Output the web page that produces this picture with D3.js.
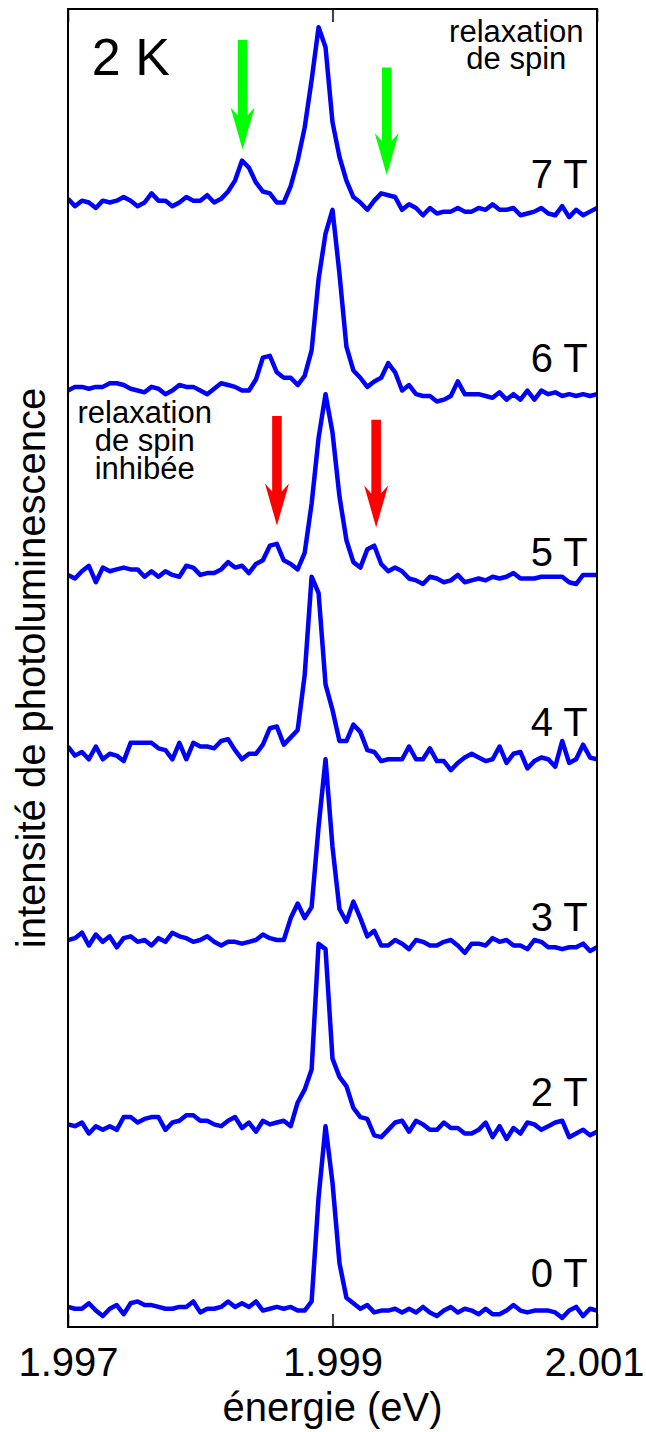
<!DOCTYPE html>
<html lang="fr">
  <head>
    <meta charset="utf-8" />
    <title>Photoluminescence 2 K</title>
    <script src="https://d3js.org/d3.v7.min.js"></script>
    <style>
      body { margin: 0; background: #fff; }
      svg text { font-family: "Liberation Sans", Arial, Helvetica, sans-serif; fill: #000; }
    </style>
  </head>
  <body>
    <div id="chart"></div>
    <script>
      // Energy grid (eV): 77 points, same for every spectrum
      const energyStart = 1.997;
      const energyStep = 0.004 / 76;
      const xTicks = [1.997, 1.999, 2.001];

      // Stacked spectra (arb. units, offset already included)
      const spec0T = [9,8,8,11,7,4,8,10,5,11,12,10,10,9,8,8,9,9,12,6,8,8,9,12,9,11,9,12,7,8,9,8,9,7,7,12,69,108,77,33,14,11,8,10,6,7,7,8,6,8,6,9,6,4,7,9,6,8,7,5,8,5,5,7,10,7,6,7,7,7,6,3,7,9,4,8,7];
      const spec2T = [109,108,110,104,108,106,108,106,113,113,110,112,113,113,106,110,111,114,114,111,111,109,108,111,113,107,110,105,111,109,110,111,108,121,128,139,208,205,145,135,130,118,113,112,103,102,106,110,111,105,111,109,106,106,110,107,107,104,104,106,110,102,108,101,107,104,110,109,106,108,110,111,102,104,106,103,105];
      const spec3T = [210,211,214,207,213,209,212,206,211,212,209,210,207,211,209,214,212,211,209,210,212,209,207,209,209,208,209,210,213,211,210,210,222,230,222,228,272,309,261,227,220,231,222,212,215,207,207,210,208,205,210,209,207,207,209,210,207,203,208,208,207,211,209,210,207,207,205,210,209,206,206,205,206,206,208,204,206];
      const spec4T = [316,311,313,309,316,309,312,311,308,318,318,318,318,315,314,309,318,309,318,316,316,315,319,320,314,309,312,312,317,326,327,317,321,325,355,409,400,350,336,319,319,328,324,314,313,308,309,309,309,316,309,309,315,308,308,303,307,310,312,310,308,309,316,307,312,313,304,308,310,309,305,319,307,309,317,310,309];
      const spec5T = [410,408,412,415,406,414,412,413,414,413,413,409,412,409,412,410,409,415,414,410,411,411,413,417,414,415,411,416,418,426,427,418,416,413,422,449,485,509,488,453,429,417,414,424,426,416,412,414,412,408,407,405,409,408,406,407,410,406,407,408,407,409,408,409,411,408,408,408,409,409,409,409,406,405,410,410,410];
      const spec6T = [511,513,513,512,513,513,515,515,514,512,511,510,513,512,509,511,514,513,513,511,509,512,515,514,513,511,511,517,529,530,521,518,518,514,519,533,572,597,610,575,535,522,518,513,516,518,526,521,511,514,509,508,508,505,506,508,516,509,509,509,508,507,510,506,509,506,511,506,511,509,510,508,509,508,509,508,509];
      const spec7T = [616,612,615,614,611,615,614,615,617,615,612,614,619,615,615,612,614,617,615,615,618,614,616,620,626,637,633,625,620,619,614,614,623,637,655,681,710,699,658,639,626,617,614,610,615,619,618,617,610,613,611,607,611,608,609,609,611,609,609,611,610,613,610,610,611,607,608,609,611,608,607,612,606,610,607,609,611];

      const fieldNames = ["0 T", "2 T", "3 T", "4 T", "5 T", "6 T", "7 T"];
      const fieldSpectra = [spec0T, spec2T, spec3T, spec4T, spec5T, spec6T, spec7T];
      // height of each field label (same units as the spectra)
      const fieldLabelLevels = [20, 119, 215, 322, 415, 521, 622];
      const fieldLabelEnergy = 2.00093;

      // Arrows: energy, top of shaft, tip (arb. units)
      const greenArrows = [
        { energy: 1.99832, top: 703, tip: 643 },
        { energy: 1.99941, top: 688, tip: 629 },
      ];
      const redArrows = [
        { energy: 1.99858, top: 497, tip: 437 },
        { energy: 1.99933, top: 495, tip: 436 },
      ];

      const margin = { top: 9, left: 68 };
      const width = 529, height = 1318;

      const svg = d3
        .select("#chart")
        .append("svg")
        .attr("width", 646)
        .attr("height", 1432);

      const g = svg.append("g").attr("transform", `translate(${margin.left},${margin.top})`);

      const x = d3.scaleLinear().domain([1.997, 2.001]).range([0, width]);
      const y = d3.scaleLinear().domain([-2, 720]).range([height, 0]);

      const line = d3
        .line()
        .x((d, i) => x(energyStart + i * energyStep))
        .y((d) => y(d));

      g.append("defs")
        .append("clipPath")
        .attr("id", "plot-clip")
        .append("rect")
        .attr("width", width)
        .attr("height", height);

      // spectra
      g.append("g")
        .attr("clip-path", "url(#plot-clip)")
        .selectAll("path")
        .data(fieldSpectra)
        .join("path")
        .attr("d", line)
        .attr("fill", "none")
        .attr("stroke", "#0000ff")
        .attr("stroke-width", 4.5)
        .attr("stroke-linejoin", "round");

      // field labels
      g.selectAll("text.field")
        .data(fieldNames)
        .join("text")
        .attr("class", "field")
        .attr("x", x(fieldLabelEnergy))
        .attr("y", (d, i) => y(fieldLabelLevels[i]))
        .attr("text-anchor", "end")
        .style("font-size", "40px")
        .text((d) => d);

      // arrows
      function arrowPath(d) {
        const cx = x(d.energy), y0 = y(d.top), y1 = y(d.tip);
        const sw = 4.8, hw = 12, hl = 42, notch = 34;
        return `M${cx - sw},${y0}L${cx + sw},${y0}L${cx + sw},${y1 - notch}` +
          `L${cx + hw},${y1 - hl}L${cx},${y1}L${cx - hw},${y1 - hl}L${cx - sw},${y1 - notch}Z`;
      }
      g.selectAll("path.green")
        .data(greenArrows)
        .join("path")
        .attr("class", "green")
        .attr("d", arrowPath)
        .attr("fill", "#00ff00");
      g.selectAll("path.red")
        .data(redArrows)
        .join("path")
        .attr("class", "red")
        .attr("d", arrowPath)
        .attr("fill", "#ff0000");

      // annotations
      g.append("text")
        .attr("x", x(1.99718))
        .attr("y", y(684))
        .style("font-size", "52px")
        .text("2 K");

      const topNote = g.append("text")
        .attr("x", x(2.00039))
        .attr("y", y(702))
        .attr("text-anchor", "middle")
        .style("font-size", "31px");
      topNote.append("tspan").attr("x", x(2.00039)).text("relaxation");
      topNote.append("tspan").attr("x", x(2.00039)).attr("dy", 27).text("de spin");

      const leftNote = g.append("text")
        .attr("x", x(1.99758))
        .attr("y", y(493))
        .attr("text-anchor", "middle")
        .style("font-size", "31px");
      leftNote.append("tspan").attr("x", x(1.99758)).text("relaxation");
      leftNote.append("tspan").attr("x", x(1.99758)).attr("dy", 28).text("de spin");
      leftNote.append("tspan").attr("x", x(1.99758)).attr("dy", 28).text("inhibée");

      // axes: ticks pointing inward, labels only at the bottom
      const xAxis = g.append("g")
        .attr("transform", `translate(0,${height})`)
        .call(d3.axisBottom(x).tickValues(xTicks).tickSize(-13).tickSizeOuter(0).tickPadding(21).tickFormat(d3.format(".3f")));
      xAxis.select(".domain").remove();
      xAxis.selectAll(".tick line").attr("stroke", "#000").attr("stroke-width", 1.5);
      xAxis.selectAll(".tick text")
        .style("font-size", "40px")
        .attr("fill", "#000")
        .attr("dx", (d, i) => (i === xTicks.length - 1 ? -3 : 0));

      const topAxis = g.append("g")
        .call(d3.axisTop(x).tickValues(xTicks).tickSize(-13).tickSizeOuter(0).tickFormat(""));
      topAxis.select(".domain").remove();
      topAxis.selectAll(".tick line").attr("stroke", "#000").attr("stroke-width", 1.5);

      // frame
      g.append("rect")
        .attr("width", width)
        .attr("height", height)
        .attr("fill", "none")
        .attr("stroke", "#000")
        .attr("stroke-width", 2);

      // axis titles
      svg.append("text")
        .attr("x", margin.left + width / 2)
        .attr("y", 1421)
        .attr("text-anchor", "middle")
        .style("font-size", "40px")
        .text("énergie (eV)");

      svg.append("text")
        .attr("transform", `translate(45,${margin.top + height / 2}) rotate(-90)`)
        .attr("text-anchor", "middle")
        .style("font-size", "40px")
        .text("intensité de photoluminescence");
    </script>
  </body>
</html>
